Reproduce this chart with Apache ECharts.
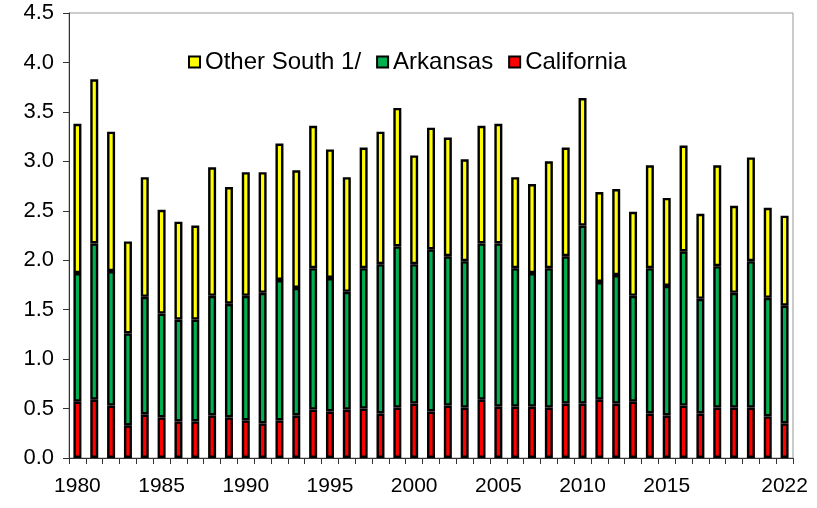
<!DOCTYPE html>
<html>
<head>
<meta charset="utf-8">
<script src="https://cdn.jsdelivr.net/npm/echarts@6/dist/echarts.min.js"></script>
<style>html,body{margin:0;padding:0;background:#fff;}#c{width:817px;height:508px;}</style>
</head>
<body>
<div id="c"></div>
<script>
const years = ["1980","1981","1982","1983","1984","1985","1986","1987","1988","1989","1990","1991","1992","1993","1994","1995","1996","1997","1998","1999","2000","2001","2002","2003","2004","2005","2006","2007","2008","2009","2010","2011","2012","2013","2014","2015","2016","2017","2018","2019","2020","2021","2022"];
const california = [0.57,0.59,0.53,0.33,0.44,0.41,0.37,0.37,0.43,0.41,0.38,0.35,0.38,0.43,0.49,0.47,0.49,0.50,0.45,0.51,0.55,0.47,0.53,0.51,0.59,0.52,0.52,0.52,0.51,0.55,0.55,0.59,0.55,0.57,0.45,0.43,0.53,0.45,0.51,0.51,0.51,0.42,0.35];
const arkansas = [1.30,1.58,1.36,0.93,1.19,1.05,1.03,1.03,1.21,1.15,1.26,1.32,1.42,1.29,1.43,1.35,1.19,1.42,1.51,1.63,1.41,1.64,1.51,1.48,1.58,1.65,1.40,1.35,1.41,1.49,1.80,1.19,1.30,1.07,1.47,1.31,1.56,1.16,1.43,1.16,1.48,1.20,1.19];
const otherSouth = [1.51,1.66,1.41,0.93,1.21,1.05,0.99,0.95,1.30,1.18,1.25,1.22,1.38,1.19,1.44,1.30,1.16,1.22,1.34,1.40,1.10,1.23,1.20,1.03,1.19,1.21,0.92,0.90,1.08,1.10,1.29,0.91,0.87,0.85,1.04,0.89,1.07,0.86,1.02,0.88,1.05,0.91,0.91];
const yTicks = [0,0.5,1,1.5,2,2.5,3,3.5,4,4.5];
const labelYears = ["1980","1985","1990","1995","2000","2005","2010","2015","2022"];

const font = "'Liberation Sans', Arial, sans-serif";
const chart = echarts.init(document.getElementById('c'), null, {renderer:'canvas'});
function barSeries(name, data, color){
  return {name:name, type:'bar', stack:'total', data:data, barWidth:8,
    itemStyle:{color:color, borderColor:'#000', borderWidth:2.4}};
}
chart.setOption({
  animation:false,
  backgroundColor:'#fff',
  grid:{left:69, right:24, top:13, bottom:50, show:true, borderColor:'#999', borderWidth:1},
  legend:{
    top:45, left:183, itemWidth:11, itemHeight:11, itemGap:15, icon:'rect',
    data:['Other South 1/','Arkansas','California'],
    textStyle:{fontFamily:font, fontSize:24, color:'#000'},
    itemStyle:{borderColor:'#000', borderWidth:2}
  },
  xAxis:{
    type:'category', data:years, boundaryGap:true,
    axisLine:{lineStyle:{color:'#333', width:1}},
    axisTick:{show:true, interval:0, length:6, lineStyle:{color:'#333'}},
    axisLabel:{
      interval:function(i, v){ return labelYears.indexOf(v) >= 0; },
      fontFamily:font, fontSize:21, color:'#000', margin:18
    }
  },
  yAxis:{
    type:'value', min:yTicks[0], max:yTicks[yTicks.length-1], interval:0.5,
    splitLine:{show:false},
    axisLine:{show:true, lineStyle:{color:'#333', width:1}},
    axisTick:{show:true, length:6, lineStyle:{color:'#333'}},
    axisLabel:{fontFamily:font, fontSize:22, color:'#000', margin:15,
      formatter:function(v){ return v.toFixed(1); }}
  },
  series:[
    barSeries('California', california, '#ff0000'),
    barSeries('Arkansas', arkansas, '#00b050'),
    barSeries('Other South 1/', otherSouth, '#ffff00')
  ]
});
</script>
</body>
</html>
